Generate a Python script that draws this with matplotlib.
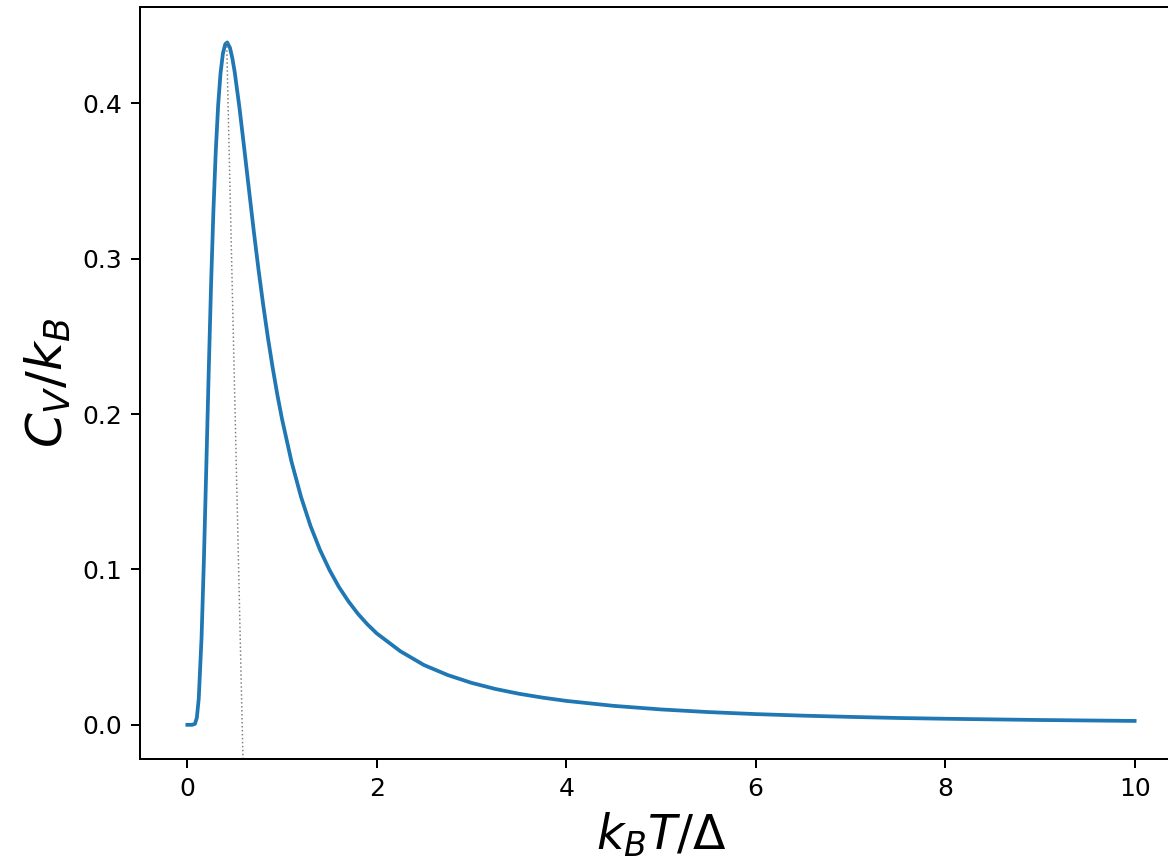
import matplotlib.pyplot as plt

# heat capacity curve (kT/Delta, C_V/k_B)
temps = [0.0, 0.05, 0.08, 0.1, 0.12, 0.15, 0.175, 0.2, 0.225, 0.25, 0.275,
         0.3, 0.325, 0.35, 0.375, 0.4, 0.42, 0.45, 0.475, 0.5, 0.55, 0.6,
         0.65, 0.7, 0.75, 0.8, 0.85, 0.9, 0.95, 1.0, 1.1, 1.2, 1.3, 1.4,
         1.5, 1.6, 1.7, 1.8, 1.9, 2.0, 2.25, 2.5, 2.75, 3.0, 3.25, 3.5,
         3.75, 4.0, 4.5, 5.0, 5.5, 6.0, 6.5, 7.0, 7.5, 8.0, 9.0, 10.0]
heat_cap = [0.0, 0.0, 0.0006, 0.0045, 0.0167, 0.0564, 0.1071, 0.1663,
            0.2265, 0.2827, 0.3309, 0.3695, 0.3988, 0.4193, 0.4320, 0.4381,
            0.4392, 0.4357, 0.4290, 0.4200, 0.3972, 0.3712, 0.3446, 0.3183,
            0.2935, 0.2705, 0.2493, 0.2300, 0.2124, 0.1966, 0.1692, 0.1467,
            0.1280, 0.1126, 0.0997, 0.0887, 0.0795, 0.0715, 0.0647, 0.0588,
            0.0473, 0.0384, 0.0320, 0.0270, 0.0231, 0.0200, 0.0175, 0.0154,
            0.0122, 0.0099, 0.0082, 0.0069, 0.0059, 0.0051, 0.0044, 0.0039,
            0.0031, 0.0025]

# dotted guide from the peak down to the axis
guide_x = [0.415, 0.59]
guide_y = [0.4392, -0.03]

fig = plt.figure(figsize=(1168 / 180, 863 / 180), dpi=180)
ax = fig.add_axes([140 / 1168, 104 / 863, 1042 / 1168, 752 / 863])

ax.plot(temps, heat_cap, color='#1f77b4', lw=1.5)
ax.plot(guide_x, guide_y, ':', color='gray', lw=0.6)

ax.set_xlim(-0.5, 10.5)
ax.set_ylim(-0.022, 0.462)
ax.set_xticks([0, 2, 4, 6, 8, 10])
ax.set_yticks([0.0, 0.1, 0.2, 0.3, 0.4])
ax.spines['right'].set_visible(False)

ax.set_xlabel(r'$k_BT/\Delta$', fontsize=19)
ax.set_ylabel(r'$C_V/k_B$', fontsize=20)

fig.savefig('out.png', dpi=180)
